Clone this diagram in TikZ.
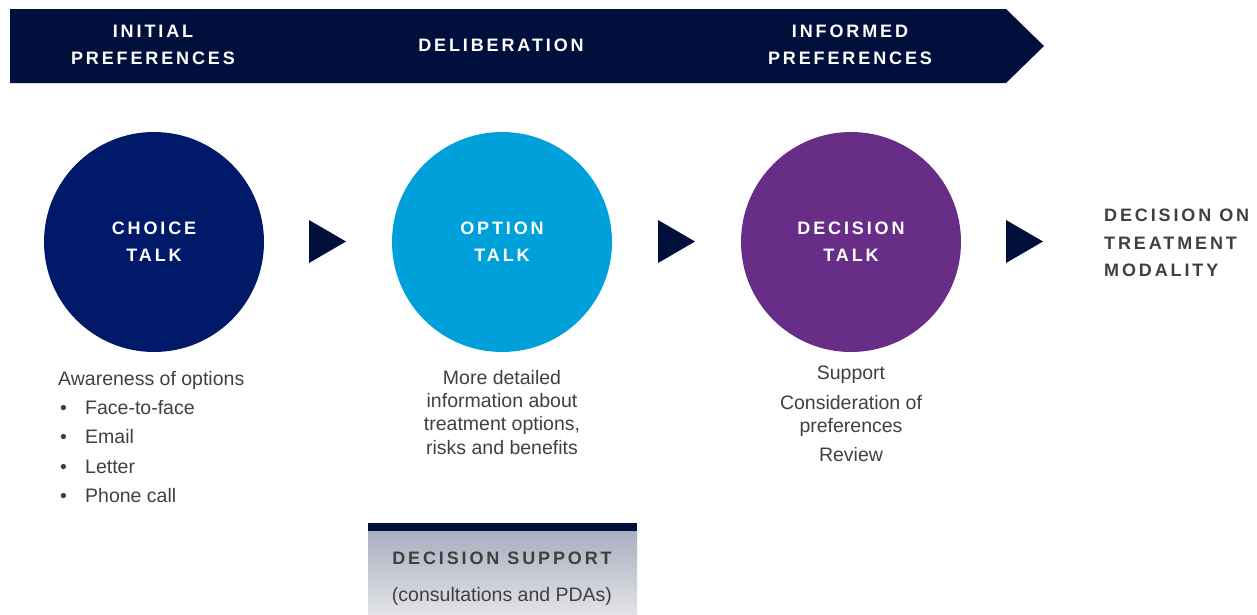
\documentclass[tikz,border=0pt]{standalone}
\usepackage{fontspec}
\setmainfont{Liberation Sans}
\newfontfamily\spaced[LetterSpace=16]{Liberation Sans}
\usetikzlibrary{positioning,shapes.geometric}
\definecolor{navy}{HTML}{000F3B}
\definecolor{choiceblue}{HTML}{001969}
\definecolor{optionblue}{HTML}{00A0DA}
\definecolor{decisionpurple}{HTML}{682E87}
\definecolor{textgray}{HTML}{404040}
\definecolor{supporttop}{HTML}{A9AEBF}
\definecolor{supportbottom}{HTML}{E2E3E7}
\tikzset{%
	phase/.style    = {circle, minimum size=220pt, inner sep=0pt, text=white, align=center, font=\spaced\bfseries\fontsize{18}{27}\selectfont},
	heading/.style  = {inner sep=0pt, text=white, align=center, font=\spaced\bfseries\fontsize{18}{27}\selectfont},
	outcome/.style  = {inner sep=0pt, text=textgray, align=left, font=\spaced\bfseries\fontsize{18}{27.5}\selectfont},
	body/.style     = {inner sep=0pt, text=textgray, font=\fontsize{19.5}{23.3}\selectfont},
	steptip/.style  = {fill=navy},
}
\newcommand{\bul}{\makebox[27pt][l]{\hspace{2pt}\textbullet}}

\begin{document}
\begin{tikzpicture}[x=1pt,y=-1pt]
		\useasboundingbox (0,0) rectangle (1257,614);
		
		% banner
		\fill[navy] (10,9) -- (1006,9) -- (1044,46) -- (1006,83) -- (10,83) -- cycle;
		\node[heading] (initial) at (153,45) {INITIAL\\PREFERENCES};
		\node[heading] (deliberation) at (501,45) {DELIBERATION};
		\node[heading] (informed) at (850,45) {INFORMED\\PREFERENCES};
		
		% talk circles
		\node[phase, fill=choiceblue] (choice) at (154,242) {CHOICE\\TALK};
		\node[phase, fill=optionblue] (option) at (502,242) {OPTION\\TALK};
		\node[phase, fill=decisionpurple] (decision) at (851,242) {DECISION\\TALK};
		
		\foreach \x in {309,658,1006} \fill[steptip] (\x,220) -- (\x+37,241.5) -- (\x,263) -- cycle;
		
		\node[outcome, anchor=west] (modality) at (1104,243) {DECISION ON\\TREATMENT\\MODALITY};
		
		% texts under the circles
		\node[body, anchor=north west, align=left, font=\fontsize{19.5}{29.3}\selectfont] (choicetext) at (58,371) {Awareness of options\\ \bul Face-to-face\\ \bul Email\\ \bul Letter\\ \bul Phone call};
		\node[body, anchor=north, align=center] (optiontext) at (502,370) {More detailed\\information about\\treatment options,\\risks and benefits};
		\node[body, anchor=north, align=center] (decisiontext) at (851,366) {Support\\[6pt]Consideration of\\preferences\\[6pt]Review};
		
		% decision support box
		\shade[top color=supporttop, bottom color=supportbottom] (368,531) rectangle (637,614);
		\fill[navy] (368,523) rectangle (637,531);
		\node[heading, text=textgray] (support) at (502,558) {DECISION SUPPORT};
		\node[body] (pdas) at (502,596) {(consultations and PDAs)};
\end{tikzpicture}
\end{document}
